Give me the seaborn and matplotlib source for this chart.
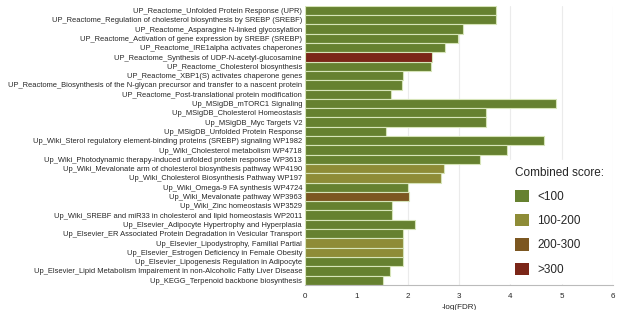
import pandas as pd
import numpy as np
import matplotlib.pyplot as plt
import seaborn as sns

terms = [
    'UP_Reactome_Unfolded Protein Response (UPR)',
    'UP_Reactome_Regulation of cholesterol biosynthesis by SREBP (SREBF)',
    'UP_Reactome_Asparagine N-linked glycosylation',
    'UP_Reactome_Activation of gene expression by SREBF (SREBP)',
    'UP_Reactome_IRE1alpha activates chaperones',
    'UP_Reactome_Synthesis of UDP-N-acetyl-glucosamine',
    'UP_Reactome_Cholesterol biosynthesis',
    'UP_Reactome_XBP1(S) activates chaperone genes',
    'UP_Reactome_Biosynthesis of the N-glycan precursor and transfer to a nascent protein',
    'UP_Reactome_Post-translational protein modification',
    'Up_MSigDB_mTORC1 Signaling',
    'Up_MSigDB_Cholesterol Homeostasis',
    'Up_MSigDB_Myc Targets V2',
    'Up_MSigDB_Unfolded Protein Response',
    'Up_Wiki_Sterol regulatory element-binding proteins (SREBP) signaling WP1982',
    'Up_Wiki_Cholesterol metabolism WP4718',
    'Up_Wiki_Photodynamic therapy-induced unfolded protein response WP3613',
    'Up_Wiki_Mevalonate arm of cholesterol biosynthesis pathway WP4190',
    'Up_Wiki_Cholesterol Biosynthesis Pathway WP197',
    'Up_Wiki_Omega-9 FA synthesis WP4724',
    'Up_Wiki_Mevalonate pathway WP3963',
    'Up_Wiki_Zinc homeostasis WP3529',
    'Up_Wiki_SREBF and miR33 in cholesterol and lipid homeostasis WP2011',
    'Up_Elsevier_Adipocyte Hypertrophy and Hyperplasia',
    'Up_Elsevier_ER Associated Protein Degradation in Vesicular Transport',
    'Up_Elsevier_Lipodystrophy, Familial Partial',
    'Up_Elsevier_Estrogen Deficiency in Female Obesity',
    'Up_Elsevier_Lipogenesis Regulation in Adipocyte',
    'Up_Elsevier_Lipid Metabolism Impairement in non-Alcoholic Fatty Liver Disease',
    'Up_KEGG_Terpenoid backbone biosynthesis',
]
neg_log_fdr = [3.71, 3.71, 3.07, 2.98, 2.73, 2.48, 2.46, 1.91, 1.90, 1.67,
               4.88, 3.53, 3.53, 1.58, 4.66, 3.93, 3.41, 2.70, 2.65, 2.01,
               2.02, 1.69, 1.69, 2.15, 1.91, 1.91, 1.91, 1.91, 1.65, 1.53]
score = ['<100', '<100', '<100', '<100', '<100', '>300', '<100', '<100', '<100', '<100',
         '<100', '<100', '<100', '<100', '<100', '<100', '<100', '100-200', '100-200', '<100',
         '200-300', '<100', '<100', '<100', '<100', '100-200', '100-200', '<100', '<100', '<100']
score_levels = ['<100', '100-200', '200-300', '>300']
score_colors = ['#6b8e23', '#9c9a28', '#8b5a12', '#8b1a08']

df = pd.DataFrame({'term': terms, 'val': neg_log_fdr, 'score': score})

sns.set_style('white')
plt.rcParams['font.family'] = ['Liberation Sans', 'DejaVu Sans']

fig = plt.figure(figsize=(6.17, 3.10), dpi=100)
ax = fig.add_axes([0.494, 0.081, 0.500, 0.900])

sns.barplot(data=df, y='term', x='val', hue='score', hue_order=score_levels,
            palette=dict(zip(score_levels, score_colors)), dodge=False,
            width=1.0, edgecolor='#d6e4b8', linewidth=0.8, orient='h', ax=ax)

ax.set_xlim(0, 6)
ax.set_ylim(len(terms) - 0.5, -0.5)
ax.set_xticks(range(7))
ax.xaxis.grid(True, color='#ebebeb', lw=0.8)
ax.set_axisbelow(True)
for s in ['top', 'right', 'left']:
    ax.spines[s].set_visible(False)
ax.spines['bottom'].set_color('#bbbbbb')
ax.tick_params(axis='x', length=2, color='#bbbbbb', labelsize=5.8, pad=4)
ax.tick_params(axis='y', length=0, labelsize=5.45, pad=2)
ax.set_ylabel('')
ax.set_xlabel('-log(FDR)', fontsize=5.8, labelpad=3)

leg = ax.legend(title='Combined score:', loc='upper left', bbox_to_anchor=(0.638, 0.47),
                frameon=True, fontsize=8.5, title_fontsize=8.5, labelspacing=0.95,
                handlelength=1.2, handleheight=1.2, handletextpad=0.7, borderpad=0.6)
leg.get_frame().set_facecolor('white')
leg.get_frame().set_edgecolor('white')
leg.get_frame().set_alpha(1)
leg._legend_box.align = 'left'
for h in leg.legend_handles:
    h.set_edgecolor('none')

fig.savefig('out.png', dpi=100)
